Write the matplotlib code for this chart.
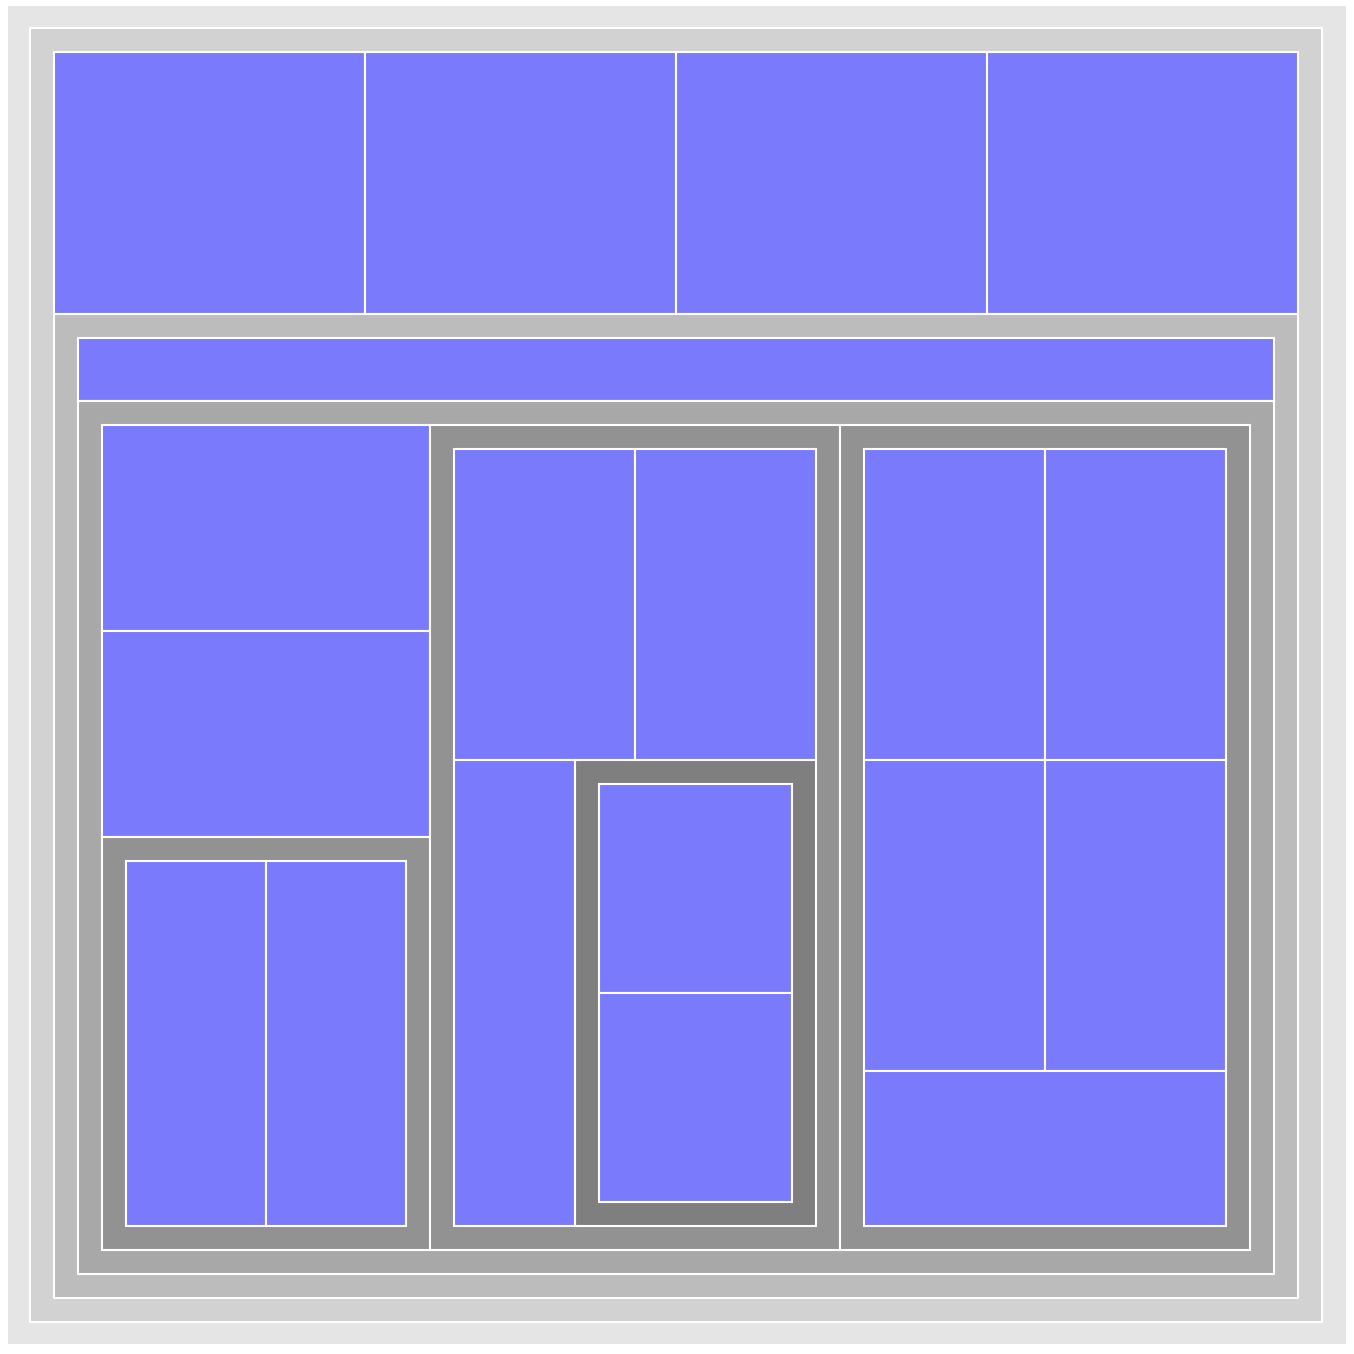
import matplotlib
matplotlib.use("Agg")
import matplotlib.pyplot as plt
from matplotlib.patches import Rectangle

# Tree data: a number is a leaf (its value), a list is a group of children
g5 = [1, 1]
g4a = [1, 1]
g4b = [1, 1, 1, g5]
g4c = [1, 1, 1, 1, 1]
g3 = [1, 1, g4a, g4b, g4c]
g2 = [1, g3]
g1 = [1, 1, 1, 1, g2]
root = [g1]

# Fill colours: groups get darker by depth, leaves are blue
group_colors = ["#e5e5e5", "#d2d2d2", "#bcbcbc", "#a8a8a8", "#929292", "#7f7f7f"]
leaf_color = "#797bfc"

PHI = (1 + 5 ** 0.5) / 2
PAD = 24
ROOT_PAD = (22, 22, 24, 22)  # left, top, right, bottom
SIZE = 1354


def total(node):
    if isinstance(node, list):
        return sum(total(c) for c in node)
    return node


def dice(items, x0, y0, x1, y1, out):
    s = sum(v for v, _ in items)
    x = x0
    for v, n in items:
        w = (x1 - x0) * v / s
        out.append((n, x, y0, x + w, y1))
        x += w


def slice_(items, x0, y0, x1, y1, out):
    s = sum(v for v, _ in items)
    y = y0
    for v, n in items:
        h = (y1 - y0) * v / s
        out.append((n, x0, y, x1, y + h))
        y += h


# squarified layout (same row rule as d3's treemapSquarify)
def squarify(children, x0, y0, x1, y1):
    items = [(total(c), c) for c in children]
    value = sum(v for v, _ in items)
    out = []
    i0 = 0
    n = len(items)
    while i0 < n:
        dx, dy = x1 - x0, y1 - y0
        i1 = i0
        s = items[i1][0]
        i1 += 1
        mn = mx = s
        alpha = max(dy / dx, dx / dy) / (value * PHI)
        beta = s * s * alpha
        min_ratio = max(mx / beta, beta / mn)
        while i1 < n:
            nv = items[i1][0]
            s += nv
            mn = min(mn, nv)
            mx = max(mx, nv)
            beta = s * s * alpha
            r = max(mx / beta, beta / mn)
            if r > min_ratio:
                s -= nv
                break
            min_ratio = r
            i1 += 1
        row = items[i0:i1]
        if dx < dy:
            ny = y0 + dy * s / value if i1 < n else y1
            dice(row, x0, y0, x1, ny, out)
            y0 = ny
        else:
            nx = x0 + dx * s / value if i1 < n else x1
            slice_(row, x0, y0, nx, y1, out)
            x0 = nx
        value -= s
        i0 = i1
    return out


def draw(ax, node, x0, y0, x1, y1, depth):
    if isinstance(node, list):
        ax.add_patch(Rectangle((x0, y0), x1 - x0, y1 - y0, facecolor=group_colors[depth],
                               edgecolor="white" if depth > 0 else "none", linewidth=1.5))
        if depth == 0:
            pl, pt, pr, pb = ROOT_PAD
        else:
            pl = pt = pr = pb = PAD
        for child, a, b, c, d in squarify(node, x0 + pl, y0 + pt, x1 - pr, y1 - pb):
            draw(ax, child, a, b, c, d, depth + 1)
    else:
        ax.add_patch(Rectangle((x0, y0), x1 - x0, y1 - y0, facecolor=leaf_color,
                               edgecolor="white", linewidth=1.5))


fig = plt.figure(figsize=(SIZE / 100, SIZE / 100), dpi=100)
ax = fig.add_axes([0, 0, 1, 1])
ax.set_xlim(0, SIZE)
ax.set_ylim(SIZE, 0)
ax.axis("off")

draw(ax, root, 8, 6, 1346, 1344, 0)

fig.savefig("out.png", dpi=100, facecolor="white")
